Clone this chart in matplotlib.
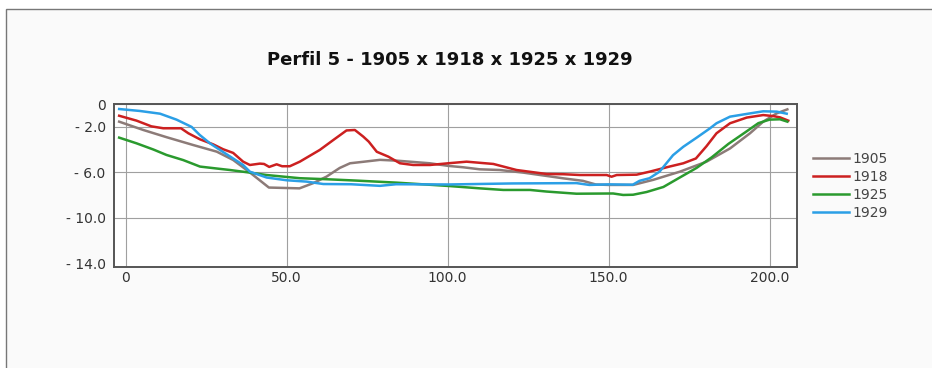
import matplotlib
matplotlib.use("Agg")
import matplotlib.pyplot as plt
from matplotlib.patches import Rectangle

# Cross-section profile 5: distance (m) vs depth (m) for four surveys
x_1905 = [-2, 5.5, 12.7, 21, 28.3, 33.4, 38.3, 44.5, 54, 58.3, 62.4, 66.5, 69.7, 73.8, 79, 84.2,
          94.5, 100.2, 104.8, 110, 116.2, 123.5, 135.9, 142, 146, 150, 157.6, 163.9, 172.1,
          180.4, 187.7, 193.9, 198, 202.2, 205.5]
y_1905 = [-1.55, -2.28, -2.91, -3.6, -4.18, -4.91, -5.94, -7.33, -7.4, -6.94, -6.37, -5.61, -5.2,
          -5.07, -4.9, -4.97, -5.2, -5.43, -5.55, -5.73, -5.79, -6.02, -6.52, -6.74, -7.06, -7.1,
          -7.1, -6.65, -5.94, -5.06, -3.9, -2.57, -1.55, -0.82, -0.47]

x_1918 = [-2, 3.4, 8, 11.7, 17.2, 19.5, 23.1, 27.2, 30.3, 33.4, 36.5, 38.6, 41.7, 43, 44.6, 46.9,
          48.6, 51, 54.1, 60.3, 64.5, 68.6, 71.2, 73.8, 75.5, 78, 81.6, 85.2, 89.3, 94.5, 100.2,
          105.9, 114.2, 121.4, 130.7, 135.9, 141.1, 149.4, 150.9, 152.5, 158.7, 162.7, 168.9,
          173.2, 177.1, 180.4, 183.5, 187.7, 192.9, 198, 201.1, 203.2, 205.8]
y_1918 = [-1.03, -1.46, -1.96, -2.13, -2.13, -2.57, -3.1, -3.54, -3.97, -4.29, -5.06, -5.35,
          -5.23, -5.26, -5.52, -5.29, -5.46, -5.46, -5.06, -4.03, -3.16, -2.32, -2.28, -2.86,
          -3.3, -4.19, -4.62, -5.2, -5.35, -5.35, -5.2, -5.06, -5.26, -5.79, -6.14, -6.16, -6.23,
          -6.23, -6.38, -6.23, -6.2, -5.94, -5.49, -5.2, -4.78, -3.7, -2.57, -1.69, -1.19, -0.97,
          -1.06, -1.17, -1.46]

x_1925 = [-2, 3.4, 8.6, 12.7, 17.9, 23.1, 28.3, 32.4, 38.6, 43.8, 54.1, 62.4, 71.7, 84.2, 100.2,
          110, 117.3, 125.6, 130.7, 140, 151.4, 154.5, 157.6, 161.8, 167, 172.1, 177.3, 182,
          187.2, 192.4, 196.5, 200, 203.2, 205.5]
y_1925 = [-2.95, -3.45, -3.99, -4.47, -4.92, -5.49, -5.66, -5.79, -6.02, -6.23, -6.51, -6.6,
          -6.72, -6.9, -7.19, -7.4, -7.54, -7.54, -7.68, -7.87, -7.85, -7.98, -7.96, -7.72, -7.28,
          -6.45, -5.61, -4.68, -3.5, -2.49, -1.68, -1.37, -1.34, -1.55]

x_1929 = [-2, 4.4, 10.7, 15.8, 20.5, 23, 26.2, 29.3, 33.4, 36.5, 38.6, 43.8, 50, 56.2, 61.4, 70,
          79, 84, 100.2, 120, 140, 144, 150, 157.5, 159.6, 162.7, 165.8, 170, 173.2, 177.3, 181.5,
          183.5, 187.7, 192.9, 198, 202.2, 205.3]
y_1929 = [-0.44, -0.61, -0.85, -1.37, -2.01, -2.71, -3.45, -4.03, -4.78, -5.35, -5.94, -6.45,
          -6.69, -6.81, -7.02, -7.04, -7.18, -7.04, -7.06, -6.97, -6.94, -7.1, -7.05, -7.08, -6.74,
          -6.51, -5.94, -4.49, -3.75, -2.96, -2.13, -1.69, -1.11, -0.87, -0.64, -0.67, -0.85]

series_labels = ["1905", "1918", "1925", "1929"]
series_colors = ["#8c7b78", "#cc2020", "#2a9a2e", "#2b9fe6"]

x_ticks = [0, 50, 100, 150, 200]
x_tick_labels = ["0", "50.0", "100.0", "150.0", "200.0"]
y_ticks = [0, -2, -6, -10, -14]
y_tick_labels = ["0", "- 2.0", "- 6.0", "- 10.0", "- 14.0"]

title = "Perfil 5 - 1905 x 1918 x 1925 x 1929"

W, H = 932, 368
fig = plt.figure(figsize=(W / 100, H / 100), dpi=100)
fig.patch.set_facecolor("white")

# panel background with a thin frame on the top and left
panel = Rectangle((6 / W, -0.05), 1.0, 1 - 9 / H + 0.05, transform=fig.transFigure,
                  facecolor="#fafafa", edgecolor="#777777", linewidth=1.0, zorder=-10)
fig.patches.append(panel)

ax = fig.add_axes([114 / W, 1 - 267 / H, (797 - 114) / W, (267 - 104) / H])
ax.set_zorder(1)
ax.set_facecolor("white")

for xs, ys, lab, col in zip([x_1905, x_1918, x_1925, x_1929],
                            [y_1905, y_1918, y_1925, y_1929],
                            series_labels, series_colors):
    ax.plot(xs, ys, color=col, linewidth=1.8, label=lab, solid_joinstyle="round")

ax.set_xlim(-3.6, 208.5)
ax.set_ylim(-14.3, 0)
ax.set_xticks(x_ticks)
ax.set_xticklabels(x_tick_labels)
ax.set_yticks(y_ticks)
ax.set_yticklabels(y_tick_labels)
ax.tick_params(length=0, labelsize=10, labelcolor="#333333")
ax.tick_params(axis="y", pad=6)
ax.tick_params(axis="x", pad=3)
ax.grid(True, color="#a0a0a0", linewidth=0.8)
ax.set_axisbelow(True)
# the bottom tick sits on the frame; no separate grid line for it
ax.yaxis.get_gridlines()[-1].set_visible(False)
for s in ax.spines.values():
    s.set_color("#555555")
    s.set_linewidth(1.4)

fig.text(450 / W, 1 - 60 / H, title, ha="center", va="center", fontsize=13,
         fontweight="bold", color="#111111")

fig.legend(loc="upper left", bbox_to_anchor=(800 / W, 1 - 139 / H), frameon=False,
           fontsize=10, handlelength=2.6, handletextpad=0.3, labelspacing=0.3,
           labelcolor="#444444")

fig.savefig("out.png", dpi=100, facecolor=fig.get_facecolor())
